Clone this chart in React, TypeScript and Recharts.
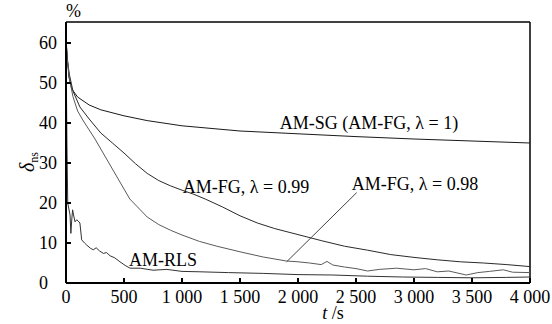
import {
  LineChart,
  Line,
  XAxis,
  YAxis,
  ReferenceLine,
  ReferenceDot
} from 'recharts';

const FONT = '"Liberation Serif", "Times New Roman", serif';

const X_TICKS = [0, 500, 1000, 1500, 2000, 2500, 3000, 3500, 4000];
const Y_TICKS = [0, 10, 20, 30, 40, 50, 60];

// AM-SG (AM-FG, lambda = 1)
const SG_T = [0, 10, 25, 50, 100, 200, 300, 500, 700, 1000, 1500, 2000, 2500, 3000, 3500, 4000];
const SG_V = [61, 57, 51.5, 48.5, 46.5, 44.5, 43.3, 41.8, 40.6, 39.3, 38.0, 37.3, 36.6, 36.0, 35.5, 35.0];

// AM-FG, lambda = 0.99
const FG99_T = [0, 10, 30, 60, 120, 200, 300, 400, 500, 600, 700, 800, 900, 1000, 1100, 1200, 1350, 1500, 1650, 1800, 2000, 2200, 2400, 2600, 2800, 3000, 3200, 3400, 3600, 3800, 4000];
const FG99_V = [61, 56, 52, 48, 44, 41, 37.5, 35, 32.5, 29.8, 27.4, 25.6, 24.3, 23.2, 22.2, 21, 19, 16.8, 15, 13.6, 12.1, 10.6, 9.2, 8.2, 7.1, 6.4, 5.8, 5.3, 5.0, 4.6, 4.1];

// AM-FG, lambda = 0.98
const FG98_T = [0, 10, 30, 60, 100, 150, 250, 350, 450, 550, 700, 800, 900, 1000, 1150, 1300, 1500, 1700, 1900, 2000, 2100, 2200, 2250, 2300, 2400, 2500, 2600, 2700, 2850, 3000, 3100, 3200, 3300, 3450, 3550, 3650, 3770, 3850, 4000];
const FG98_V = [61, 56, 51, 46.6, 43, 40.5, 36, 31, 26, 21, 16.5, 14.6, 13.2, 12, 10.4, 9.2, 7.8, 6.5, 5.5, 5.3, 5.0, 4.6, 5.4, 4.5, 4.0, 3.6, 3.0, 3.4, 3.7, 3.3, 3.6, 2.8, 3.0, 2.0, 2.6, 2.9, 3.3, 2.7, 2.6];

// AM-RLS
const RLS_T = [0, 8, 15, 25, 35, 42, 50, 57, 65, 78, 92, 105, 120, 135, 160, 178, 210, 235, 260, 290, 322, 350, 380, 420, 465, 510, 552, 640, 750, 870, 1000, 1155, 1400, 1700, 2000, 2300, 2600, 2900, 3200, 3500, 3800, 4000];
const RLS_V = [61, 35, 20, 18.5, 17, 12.4, 16, 18.3, 17, 15.3, 15.8, 15.5, 15, 10.8, 10, 9.5, 8.7, 8.3, 8.8, 8, 7.4, 7.6, 6.8, 6.3, 5.3, 4.4, 3.7, 3.7, 3.2, 3.4, 2.9, 2.8, 2.6, 2.4, 2.1, 2.0, 1.7, 1.5, 1.4, 1.3, 1.4, 1.5];

const toRows = (ts: number[], vs: number[]) => ts.map((t, i) => ({ t, v: vs[i] }));

const fmt = (v: number) => (v >= 1000 ? `${Math.floor(v / 1000)} ${String(v % 1000).padStart(3, '0')}` : String(v));

function XTick({ x, y, payload }: any) {
  const v = payload.value;
  return (
    <g>
      {v !== 0 && <line x1={x} y1={y} x2={x} y2={y - 5} stroke="#000" strokeWidth={2} />}
      <text x={x} y={y + 20} textAnchor="middle" fontFamily={FONT} fontSize={18} fill="#000">
        {fmt(v)}
      </text>
    </g>
  );
}

function YTick({ x, y, payload }: any) {
  const v = payload.value;
  return (
    <g>
      {v !== 0 && <line x1={x} y1={y} x2={x + 5} y2={y} stroke="#000" strokeWidth={2} />}
      <text x={39} y={y + 6} textAnchor="start" fontFamily={FONT} fontSize={18} fill="#000">
        {v}
      </text>
    </g>
  );
}

const lbl = (value: string) => ({ value, position: 'center' as const, fill: '#000', fontSize: 18, fontFamily: FONT });

export default function App() {
  return (
    <div style={{ width: 552, height: 324, background: '#fff' }}>
      <style>{'body{margin:0}'}</style>
      <LineChart width={552} height={324} margin={{ top: 22, right: 22, bottom: 0, left: 0 }}>
        <XAxis
          type="number"
          dataKey="t"
          domain={[0, 4000]}
          ticks={X_TICKS}
          interval={0}
          height={41}
          tickSize={0}
          tickMargin={0}
          tickLine={false}
          tick={<XTick />}
          axisLine={{ stroke: '#000', strokeWidth: 2 }}
          allowDataOverflow
        />
        <YAxis
          type="number"
          domain={[0, 65.25]}
          ticks={Y_TICKS}
          interval={0}
          width={66}
          tickSize={0}
          tickMargin={0}
          tickLine={false}
          tick={<YTick />}
          axisLine={{ stroke: '#000', strokeWidth: 2 }}
          allowDataOverflow
        />
        <ReferenceLine y={65.25} stroke="#000" strokeWidth={1.5} />
        <ReferenceLine x={4000} stroke="#000" strokeWidth={1.5} />

        <Line data={toRows(SG_T, SG_V)} dataKey="v" type="linear" stroke="#1a1a1a" strokeWidth={1} dot={false} isAnimationActive={false} />
        <Line data={toRows(FG99_T, FG99_V)} dataKey="v" type="linear" stroke="#2a2a2a" strokeWidth={1} dot={false} isAnimationActive={false} />
        <Line data={toRows(FG98_T, FG98_V)} dataKey="v" type="linear" stroke="#5a5a5a" strokeWidth={1} dot={false} isAnimationActive={false} />
        <Line data={toRows(RLS_T, RLS_V)} dataKey="v" type="linear" stroke="#333" strokeWidth={1} dot={false} isAnimationActive={false} />

        <ReferenceLine segment={[{ x: 2506, y: 22.6 }, { x: 1902, y: 5.3 }]} stroke="#444" strokeWidth={1} />

        <ReferenceDot x={2612} y={40} r={0} stroke="none" label={lbl('AM-SG (AM-FG, λ = 1)')} />
        <ReferenceDot x={1552} y={24.1} r={0} stroke="none" label={lbl('AM-FG, λ = 0.99')} />
        <ReferenceDot x={3009} y={24.9} r={0} stroke="none" label={lbl('AM-FG, λ = 0.98')} />
        <ReferenceDot x={836} y={5.75} r={0} stroke="none" label={lbl('AM-RLS')} />

        <text x={66} y={17} fontFamily={FONT} fontSize={18} fill="#000">%</text>
        <text x={333} y={319} textAnchor="middle" fontFamily={FONT} fontSize={18} fill="#000">
          <tspan fontStyle="italic">t</tspan> /s
        </text>
        <text transform="translate(34,162) rotate(-90)" textAnchor="middle" fontFamily={FONT} fontSize={20} fill="#000">
          <tspan fontStyle="italic">δ</tspan>
          <tspan fontSize={12} dy={4}>ns</tspan>
        </text>
      </LineChart>
    </div>
  );
}
